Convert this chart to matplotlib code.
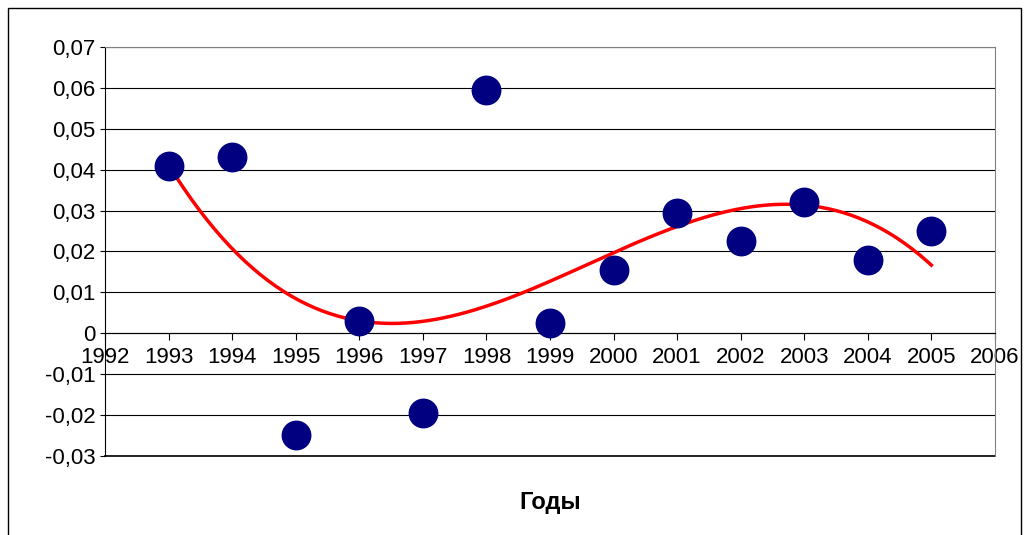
import matplotlib
matplotlib.use('Agg')
import matplotlib.pyplot as plt
import numpy as np
from matplotlib.ticker import FuncFormatter

years = [1993, 1994, 1995, 1996, 1997, 1998, 1999, 2000, 2001, 2002, 2003, 2004, 2005]
values = [0.041, 0.043, -0.025, 0.003, -0.0195, 0.0595, 0.0025, 0.0155, 0.0295, 0.0225, 0.032, 0.018, 0.025]

plt.rcParams['font.family'] = ['Liberation Sans', 'DejaVu Sans']

fig = plt.figure(figsize=(10.31, 5.35), dpi=100)
fig.patches.append(plt.Rectangle((0.008, -0.01), 0.982, 0.995, transform=fig.transFigure,
                                 fill=False, edgecolor='black', linewidth=1))
ax = fig.add_axes([0.102, 0.148, 0.863, 0.764])

# cubic trend line
coef = np.polyfit(years, values, 3)
xs = np.linspace(1993, 2005, 200)
ax.plot(xs, np.polyval(coef, xs), color='#ff0000', linewidth=2.5, zorder=2)
ax.scatter(years, values, s=420, color='#000080', zorder=3)

ax.set_xlim(1992, 2006)
ax.set_ylim(-0.03, 0.07)
ax.set_xticks(range(1992, 2007))
ax.set_yticks(np.arange(-0.03, 0.0701, 0.01))
ax.yaxis.set_major_formatter(FuncFormatter(
    lambda v, p: '0' if abs(v) < 1e-9 else ('%.2f' % v).replace('.', ',')))
ax.grid(axis='y', color='black', linewidth=0.8)
ax.axhline(-0.03, color='black', linewidth=1.2, clip_on=False)
ax.set_axisbelow(True)
ax.spines['bottom'].set_position(('data', 0))
ax.spines['top'].set_color('#808080')
ax.spines['right'].set_color('#808080')
ax.tick_params(axis='both', labelsize=16, direction='out')
ax.tick_params(axis='x', length=5, pad=5)
ax.set_xlabel('Годы', fontsize=17, fontweight='bold', labelpad=0)
ax.xaxis.set_label_coords(0.5, -0.085)

fig.savefig('out.png', dpi=100)
